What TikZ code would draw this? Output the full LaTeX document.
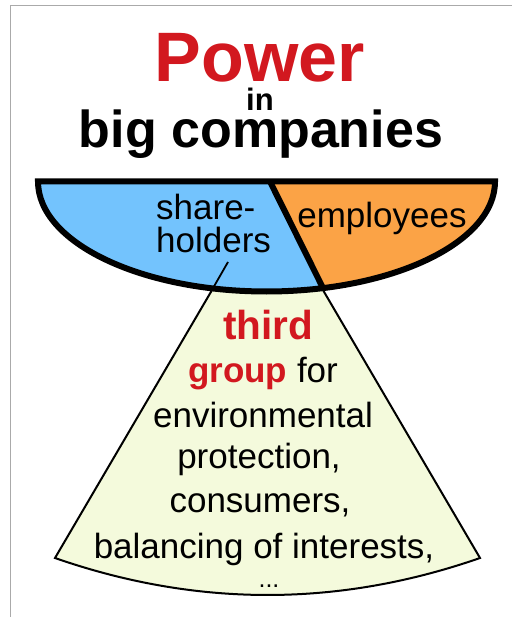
\documentclass[tikz,border=0pt]{standalone}
\usepackage{fontspec}
\setmainfont{Liberation Sans}
\definecolor{powerred}{HTML}{D2181F}
\definecolor{sharecol}{HTML}{73C3FD}
\definecolor{employcol}{HTML}{FBA346}
\definecolor{thirdcol}{HTML}{F4FADC}
\definecolor{framegrey}{HTML}{AAAAAA}
\begin{document}
\begin{tikzpicture}[x=1pt,y=-1pt,
  word/.style={anchor=base,inner sep=0pt,font=\fontsize{35}{42}\selectfont},
  headline/.style={anchor=base,inner sep=0pt,font=\fontsize{#1}{#1}\selectfont\bfseries},
  rim/.style={x radius=228.5pt,y radius=110pt}]
\useasboundingbox (0,0) rectangle (512,617);
\draw[framegrey,line width=1pt] (10.5,617) -- (10.5,5.5) -- (512,5.5);

\node[headline=70,text=powerred] (power) at (260,82) {Power};
\node[headline=31] (in) at (260,111) {in};
\node[headline=52] (big) at (261,148) {big companies};

\filldraw[fill=thirdcol,line width=2pt] (235.5,250) -- (55,558)
  .. controls (196.7,607.3) and (338.3,607.3) .. (480,558) -- (299.5,250) -- cycle;

\fill[sharecol] (38,181.5) arc[start angle=180,end angle=284.3,rim] -- (270,181.5) -- cycle;
\fill[employcol] (270,181.5) -- (323,288.1) arc[start angle=284.3,end angle=360,rim] -- cycle;
\draw[line width=6pt] (38,181.5) arc[start angle=180,end angle=360,rim] -- cycle;
\draw[line width=6pt] (270,181.5) -- (323,288.1);

\node[word,anchor=base west] (share) at (156,220) {share-};
\node[word,anchor=base west] (holders) at (156,252) {holders};
\node[word] (employees) at (382,228) {employees};
\coordinate (lead) at (228,262);
\coordinate (edge) at (212.5,289);
\draw[line width=1.8pt] (lead) -- (edge);

\node[headline=40.5,text=powerred] (third) at (268,339) {third};
\node[word] (group) at (263,382) {\textcolor{powerred}{\bfseries group} for};
\node[word] (env) at (263,427) {environmental};
\node[word] (prot) at (259,468) {protection,};
\node[word] (cons) at (260,512) {consumers,};
\node[word] (bal) at (264,558) {balancing of interests,};
\node[word,font=\fontsize{25}{30}\selectfont] (dots) at (269,587) {...};
\end{tikzpicture}
\end{document}
